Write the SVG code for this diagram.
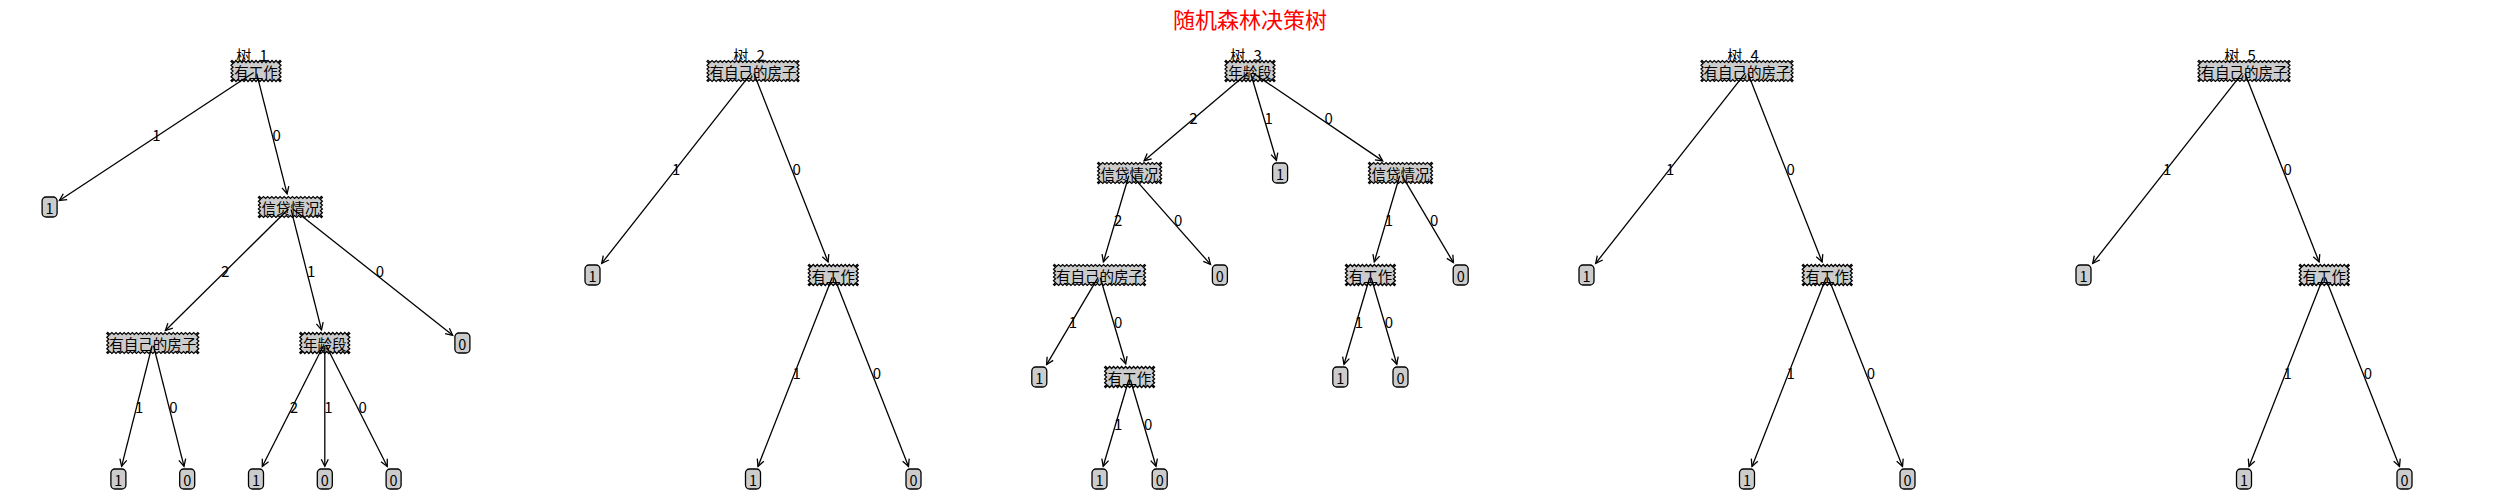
<svg xmlns="http://www.w3.org/2000/svg" xmlns:xlink="http://www.w3.org/1999/xlink" width="2500" height="500" viewBox="0 0 2500 500">
<style>
.bg{fill:#ffffff}
.saw{fill:#cccccc;stroke:#000000;stroke-width:1.25;stroke-linejoin:miter}
.leafbox{fill:#cccccc;stroke:#000000;stroke-width:1.3}
.nt{font-family:"Noto Sans CJK SC","Noto Sans",sans-serif;font-size:14.5px;text-anchor:middle;dominant-baseline:central;fill:#000000}
.tt{font-family:"Noto Sans CJK SC","Noto Sans",sans-serif;font-size:15px;text-anchor:middle;word-spacing:5px;fill:#000000}
.main{font-family:"Noto Sans CJK SC","Noto Sans",sans-serif;font-size:22px;text-anchor:middle;fill:#ff0000}
.c line{stroke:#000000;stroke-width:1.3;fill:none;marker-end:url(#ah)}
.el{font-family:"Noto Sans CJK SC","Noto Sans",sans-serif;font-size:15px;text-anchor:middle;dominant-baseline:central;fill:#000000}
</style>
<defs>
<marker id="ah" viewBox="-9 -5 10 10" refX="0" refY="0" markerWidth="10" markerHeight="10" markerUnits="userSpaceOnUse" orient="auto" overflow="visible">
<path d="M-7,-3.5 L0,0 L-7,3.5" fill="none" stroke="#000000" stroke-width="1.3"/>
</marker>
<path id="saw3" class="saw" d="M-24,-10.5 l2,2 2,-2 2,2 2,-2 2,2 2,-2 2,2 2,-2 2,2 2,-2 2,2 2,-2 2,2 2,-2 2,2 2,-2 2,2 2,-2 2,2 2,-2 2,2 2,-2 2,2 2,-2 L25,-9.5 l-2,1.9 2,1.9 -2,1.9 2,1.9 -2,1.9 2,1.9 -2,1.9 2,1.9 -2,1.9 2,1.9 L24,10.5 l-2,-2 -2,2 -2,-2 -2,2 -2,-2 -2,2 -2,-2 -2,2 -2,-2 -2,2 -2,-2 -2,2 -2,-2 -2,2 -2,-2 -2,2 -2,-2 -2,2 -2,-2 -2,2 -2,-2 -2,2 -2,-2 -2,2 L-25,9.5 l2,-1.9 -2,-1.9 2,-1.9 -2,-1.9 2,-1.9 -2,-1.9 2,-1.9 -2,-1.9 2,-1.9 -2,-1.9 Z"/>
<path id="saw4" class="saw" d="M-31,-10.5 l2.0667,2 2.0667,-2 2.0667,2 2.0667,-2 2.0667,2 2.0667,-2 2.0667,2 2.0667,-2 2.0667,2 2.0667,-2 2.0667,2 2.0667,-2 2.0667,2 2.0667,-2 2.0667,2 2.0667,-2 2.0667,2 2.0667,-2 2.0667,2 2.0667,-2 2.0667,2 2.0667,-2 2.0667,2 2.0667,-2 2.0667,2 2.0667,-2 2.0667,2 2.0667,-2 2.0667,2 2.0667,-2 L32,-9.5 l-2,1.9 2,1.9 -2,1.9 2,1.9 -2,1.9 2,1.9 -2,1.9 2,1.9 -2,1.9 2,1.9 L31,10.5 l-2.0667,-2 -2.0667,2 -2.0667,-2 -2.0667,2 -2.0667,-2 -2.0667,2 -2.0667,-2 -2.0667,2 -2.0667,-2 -2.0667,2 -2.0667,-2 -2.0667,2 -2.0667,-2 -2.0667,2 -2.0667,-2 -2.0667,2 -2.0667,-2 -2.0667,2 -2.0667,-2 -2.0667,2 -2.0667,-2 -2.0667,2 -2.0667,-2 -2.0667,2 -2.0667,-2 -2.0667,2 -2.0667,-2 -2.0667,2 -2.0667,-2 -2.0667,2 L-32,9.5 l2,-1.9 -2,-1.9 2,-1.9 -2,-1.9 2,-1.9 -2,-1.9 2,-1.9 -2,-1.9 2,-1.9 -2,-1.9 Z"/>
<path id="saw6" class="saw" d="M-45,-10.5 l2.045,2 2.045,-2 2.045,2 2.045,-2 2.045,2 2.045,-2 2.045,2 2.045,-2 2.045,2 2.045,-2 2.045,2 2.045,-2 2.045,2 2.045,-2 2.045,2 2.045,-2 2.045,2 2.045,-2 2.045,2 2.045,-2 2.045,2 2.045,-2 2.045,2 2.045,-2 2.045,2 2.045,-2 2.045,2 2.045,-2 2.045,2 2.045,-2 2.045,2 2.045,-2 2.045,2 2.045,-2 2.045,2 2.045,-2 2.045,2 2.045,-2 2.045,2 2.045,-2 2.045,2 2.045,-2 2.045,2 2.045,-2 L46,-9.5 l-2,1.9 2,1.9 -2,1.9 2,1.9 -2,1.9 2,1.9 -2,1.9 2,1.9 -2,1.9 2,1.9 L45,10.5 l-2.045,-2 -2.045,2 -2.045,-2 -2.045,2 -2.045,-2 -2.045,2 -2.045,-2 -2.045,2 -2.045,-2 -2.045,2 -2.045,-2 -2.045,2 -2.045,-2 -2.045,2 -2.045,-2 -2.045,2 -2.045,-2 -2.045,2 -2.045,-2 -2.045,2 -2.045,-2 -2.045,2 -2.045,-2 -2.045,2 -2.045,-2 -2.045,2 -2.045,-2 -2.045,2 -2.045,-2 -2.045,2 -2.045,-2 -2.045,2 -2.045,-2 -2.045,2 -2.045,-2 -2.045,2 -2.045,-2 -2.045,2 -2.045,-2 -2.045,2 -2.045,-2 -2.045,2 -2.045,-2 -2.045,2 L-46,9.5 l2,-1.9 -2,-1.9 2,-1.9 -2,-1.9 2,-1.9 -2,-1.9 2,-1.9 -2,-1.9 2,-1.9 -2,-1.9 Z"/>
<rect id="leafr" class="leafbox" x="-7.5" y="-10" width="15" height="20" rx="4" ry="4"/>
</defs>
<rect class="bg" x="0" y="0" width="2500" height="500"/>
<g id="titles">
<text class="main" x="1250" y="28">随机森林决策树</text>
<text class="tt" x="252" y="61">树 1</text>
<text class="tt" x="749" y="61">树 2</text>
<text class="tt" x="1246" y="61">树 3</text>
<text class="tt" x="1743" y="61">树 4</text>
<text class="tt" x="2240" y="61">树 5</text>
</g>
<g id="nodes">
<g id="t1-root" transform="translate(256,71)"><use href="#saw3"/><text class="nt">有工作</text></g>
<g id="t1-leaf-a" transform="translate(49.6,207)"><use href="#leafr"/><text class="nt">1</text></g>
<g id="t1-credit" transform="translate(290.4,207)"><use href="#saw4"/><text class="nt">信贷情况</text></g>
<g id="t1-house" transform="translate(152.8,343)"><use href="#saw6"/><text class="nt">有自己的房子</text></g>
<g id="t1-age" transform="translate(324.8,343)"><use href="#saw3"/><text class="nt">年龄段</text></g>
<g id="t1-leaf-b" transform="translate(462.4,343)"><use href="#leafr"/><text class="nt">0</text></g>
<g id="t1-leaf-c" transform="translate(118.4,479)"><use href="#leafr"/><text class="nt">1</text></g>
<g id="t1-leaf-d" transform="translate(187.2,479)"><use href="#leafr"/><text class="nt">0</text></g>
<g id="t1-leaf-e" transform="translate(256,479)"><use href="#leafr"/><text class="nt">1</text></g>
<g id="t1-leaf-f" transform="translate(324.8,479)"><use href="#leafr"/><text class="nt">0</text></g>
<g id="t1-leaf-g" transform="translate(393.6,479)"><use href="#leafr"/><text class="nt">0</text></g>

<g id="t2-root" transform="translate(753,71)"><use href="#saw6"/><text class="nt">有自己的房子</text></g>
<g id="t2-leaf-a" transform="translate(592.5,275)"><use href="#leafr"/><text class="nt">1</text></g>
<g id="t2-job" transform="translate(833.25,275)"><use href="#saw3"/><text class="nt">有工作</text></g>
<g id="t2-leaf-b" transform="translate(753,479)"><use href="#leafr"/><text class="nt">1</text></g>
<g id="t2-leaf-c" transform="translate(913.5,479)"><use href="#leafr"/><text class="nt">0</text></g>

<g id="t3-root" transform="translate(1250,71)"><use href="#saw3"/><text class="nt">年龄段</text></g>
<g id="t3-credit-l" transform="translate(1129.6,173)"><use href="#saw4"/><text class="nt">信贷情况</text></g>
<g id="t3-leaf-a" transform="translate(1280.1,173)"><use href="#leafr"/><text class="nt">1</text></g>
<g id="t3-credit-r" transform="translate(1400.5,173)"><use href="#saw4"/><text class="nt">信贷情况</text></g>
<g id="t3-house" transform="translate(1099.5,275)"><use href="#saw6"/><text class="nt">有自己的房子</text></g>
<g id="t3-leaf-b" transform="translate(1219.9,275)"><use href="#leafr"/><text class="nt">0</text></g>
<g id="t3-job-r" transform="translate(1370.4,275)"><use href="#saw3"/><text class="nt">有工作</text></g>
<g id="t3-leaf-c" transform="translate(1460.7,275)"><use href="#leafr"/><text class="nt">0</text></g>
<g id="t3-leaf-d" transform="translate(1039.3,377)"><use href="#leafr"/><text class="nt">1</text></g>
<g id="t3-job-l" transform="translate(1129.6,377)"><use href="#saw3"/><text class="nt">有工作</text></g>
<g id="t3-leaf-e" transform="translate(1340.3,377)"><use href="#leafr"/><text class="nt">1</text></g>
<g id="t3-leaf-f" transform="translate(1400.5,377)"><use href="#leafr"/><text class="nt">0</text></g>
<g id="t3-leaf-g" transform="translate(1099.5,479)"><use href="#leafr"/><text class="nt">1</text></g>
<g id="t3-leaf-h" transform="translate(1159.7,479)"><use href="#leafr"/><text class="nt">0</text></g>

<g id="t4-root" transform="translate(1747,71)"><use href="#saw6"/><text class="nt">有自己的房子</text></g>
<g id="t4-leaf-a" transform="translate(1586.5,275)"><use href="#leafr"/><text class="nt">1</text></g>
<g id="t4-job" transform="translate(1827.25,275)"><use href="#saw3"/><text class="nt">有工作</text></g>
<g id="t4-leaf-b" transform="translate(1747,479)"><use href="#leafr"/><text class="nt">1</text></g>
<g id="t4-leaf-c" transform="translate(1907.5,479)"><use href="#leafr"/><text class="nt">0</text></g>

<g id="t5-root" transform="translate(2244,71)"><use href="#saw6"/><text class="nt">有自己的房子</text></g>
<g id="t5-leaf-a" transform="translate(2083.5,275)"><use href="#leafr"/><text class="nt">1</text></g>
<g id="t5-job" transform="translate(2324.25,275)"><use href="#saw3"/><text class="nt">有工作</text></g>
<g id="t5-leaf-b" transform="translate(2244,479)"><use href="#leafr"/><text class="nt">1</text></g>
<g id="t5-leaf-c" transform="translate(2404.5,479)"><use href="#leafr"/><text class="nt">0</text></g>
</g>
<g id="connectors" class="c">
<g><line x1="253.7" y1="72.5" x2="59.4" y2="200.5"/><text class="el" x="156.3" y="134.5">1</text></g>
<g><line x1="256.7" y1="73.7" x2="287.1" y2="193.8"/><text class="el" x="276.7" y="134.5">0</text></g>
<g><line x1="288.4" y1="209" x2="165.4" y2="330.5"/><text class="el" x="225.1" y="270.5">2</text></g>
<g><line x1="291.1" y1="209.7" x2="321.5" y2="329.8"/><text class="el" x="311.1" y="270.5">1</text></g>
<g><line x1="292.6" y1="208.7" x2="452.7" y2="335.3"/><text class="el" x="379.9" y="270.5">0</text></g>
<g><line x1="152.1" y1="345.7" x2="121.6" y2="466.3"/><text class="el" x="139.1" y="406.5">1</text></g>
<g><line x1="153.5" y1="345.7" x2="184" y2="466.3"/><text class="el" x="173.5" y="406.5">0</text></g>
<g><line x1="323.5" y1="345.5" x2="262.3" y2="466.5"/><text class="el" x="293.9" y="406.5">2</text></g>
<g><line x1="324.8" y1="345.8" x2="324.8" y2="466.2"/><text class="el" x="328.3" y="406.5">1</text></g>
<g><line x1="326.1" y1="345.5" x2="387.3" y2="466.5"/><text class="el" x="362.7" y="406.5">0</text></g>

<g><line x1="751.3" y1="73.2" x2="601.7" y2="263.3"/><text class="el" x="676.25" y="168.5">1</text></g>
<g><line x1="754" y1="73.6" x2="828.1" y2="261.9"/><text class="el" x="796.6" y="168.5">0</text></g>
<g><line x1="832.2" y1="277.6" x2="758" y2="466.4"/><text class="el" x="796.6" y="372.5">1</text></g>
<g><line x1="834.3" y1="277.6" x2="908.5" y2="466.4"/><text class="el" x="876.9" y="372.5">0</text></g>

<g><line x1="1247.9" y1="72.8" x2="1144.1" y2="160.7"/><text class="el" x="1193.3" y="117.5">2</text></g>
<g><line x1="1250.8" y1="73.7" x2="1276.4" y2="160.3"/><text class="el" x="1268.55" y="117.5">1</text></g>
<g><line x1="1252.3" y1="72.6" x2="1382.7" y2="160.9"/><text class="el" x="1328.75" y="117.5">0</text></g>
<g><line x1="1128.8" y1="175.7" x2="1103.4" y2="261.8"/><text class="el" x="1118.05" y="219.5">2</text></g>
<g><line x1="1131.5" y1="175.1" x2="1210.5" y2="264.4"/><text class="el" x="1178.25" y="219.5">0</text></g>
<g><line x1="1399.7" y1="175.7" x2="1374.3" y2="261.8"/><text class="el" x="1388.95" y="219.5">1</text></g>
<g><line x1="1401.9" y1="175.4" x2="1453.4" y2="262.6"/><text class="el" x="1434.1" y="219.5">0</text></g>
<g><line x1="1098.1" y1="277.4" x2="1046.6" y2="364.6"/><text class="el" x="1072.9" y="321.5">1</text></g>
<g><line x1="1100.3" y1="277.7" x2="1125.7" y2="363.8"/><text class="el" x="1118.05" y="321.5">0</text></g>
<g><line x1="1369.6" y1="277.7" x2="1344" y2="364.3"/><text class="el" x="1358.85" y="321.5">1</text></g>
<g><line x1="1371.2" y1="277.7" x2="1396.8" y2="364.3"/><text class="el" x="1388.95" y="321.5">0</text></g>
<g><line x1="1128.8" y1="379.7" x2="1103.2" y2="466.3"/><text class="el" x="1118.05" y="423.5">1</text></g>
<g><line x1="1130.4" y1="379.7" x2="1156" y2="466.3"/><text class="el" x="1148.15" y="423.5">0</text></g>

<g><line x1="1745.3" y1="73.2" x2="1595.7" y2="263.3"/><text class="el" x="1670.25" y="168.5">1</text></g>
<g><line x1="1748" y1="73.6" x2="1822.1" y2="261.9"/><text class="el" x="1790.6" y="168.5">0</text></g>
<g><line x1="1826.2" y1="277.6" x2="1752" y2="466.4"/><text class="el" x="1790.6" y="372.5">1</text></g>
<g><line x1="1828.3" y1="277.6" x2="1902.5" y2="466.4"/><text class="el" x="1870.9" y="372.5">0</text></g>

<g><line x1="2242.3" y1="73.2" x2="2092.7" y2="263.3"/><text class="el" x="2167.25" y="168.5">1</text></g>
<g><line x1="2245" y1="73.6" x2="2319.1" y2="261.9"/><text class="el" x="2287.6" y="168.5">0</text></g>
<g><line x1="2323.2" y1="277.6" x2="2249" y2="466.4"/><text class="el" x="2287.6" y="372.5">1</text></g>
<g><line x1="2325.3" y1="277.6" x2="2399.5" y2="466.4"/><text class="el" x="2367.9" y="372.5">0</text></g>
</g>
</svg>
